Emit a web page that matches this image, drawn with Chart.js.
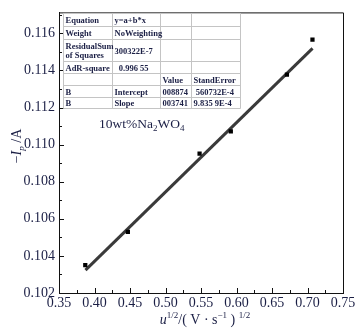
<!DOCTYPE html>
<html><head><meta charset="utf-8">
<script src="https://cdn.jsdelivr.net/npm/chart.js@4/dist/chart.umd.min.js"></script>
<style>html,body{margin:0;padding:0;background:#fff}canvas{display:block}</style>
</head><body>
<canvas id="c" width="361" height="329"></canvas>
<script>
// ---- data ----
const scanRateSqrt = [0.387, 0.447, 0.548, 0.592, 0.671, 0.707];
const peakCurrent  = [0.1035, 0.10529, 0.10952, 0.11072, 0.11378, 0.11566];
const fitX = [0.3873, 0.7071];
const fitY = [0.10323, 0.11519];
const xTickValues = [0.35, 0.40, 0.45, 0.50, 0.55, 0.60, 0.65, 0.70, 0.75];
const yTickValues = [0.102, 0.104, 0.106, 0.108, 0.110, 0.112, 0.114, 0.116];
const tableCol1 = ["Equation", "Weight", "ResidualSum|of Squares", "AdR-square", "", "B", "B"];
const tableCol2 = ["y=a+b*x", "NoWeighting", "300322E-7", "  0.996 55", "", "Intercept", "Slope"];
const tableCol3 = ["", "", "", "", "Value", "008874", "003741"];
const tableCol4 = ["", "", "", "", "StandError", " 560732E-4", "9.835 9E-4"];
const sampleLabel = ["10wt%Na", "2", "WO", "4"];

const SERIF = '"Liberation Serif", "Times New Roman", serif';
const TXT = '#1b1f45';

const decor = {
  id: 'decor',
  afterDraw(chart) {
    const ctx = chart.ctx, a = chart.chartArea;
    const xs = chart.scales.x, ys = chart.scales.y;
    ctx.save();
    // top & right frame
    ctx.strokeStyle = '#111'; ctx.lineWidth = 1;
    ctx.beginPath();
    ctx.moveTo(a.left, a.top + 0.5); ctx.lineTo(a.right + 0.5, a.top + 0.5);
    ctx.lineTo(a.right + 0.5, a.bottom);
    ctx.stroke();
    // inward ticks
    ctx.beginPath();
    for (let i = 0; i < xTickValues.length; i++) {
      const px = Math.round(xs.getPixelForValue(xTickValues[i])) + 0.5;
      ctx.moveTo(px, a.bottom); ctx.lineTo(px, a.bottom - 5);
      if (i < xTickValues.length - 1) {
        const pm = Math.round(xs.getPixelForValue((xTickValues[i] + xTickValues[i+1]) / 2)) + 0.5;
        ctx.moveTo(pm, a.bottom); ctx.lineTo(pm, a.bottom - 3);
      }
    }
    for (let i = 0; i < yTickValues.length; i++) {
      const py = Math.round(ys.getPixelForValue(yTickValues[i])) + 0.5;
      ctx.moveTo(a.left, py); ctx.lineTo(a.left + 5, py);
      const next = i < yTickValues.length - 1 ? yTickValues[i+1] : yTickValues[i] + 0.002;
      const mv = (yTickValues[i] + next) / 2;
      if (mv < ys.max) {
        const pm = Math.round(ys.getPixelForValue(mv)) + 0.5;
        ctx.moveTo(a.left, pm); ctx.lineTo(a.left + 3, pm);
      }
    }
    ctx.stroke();

    // results table
    const cx = [63.5, 112.5, 160.5, 191.5, 240.5];
    const ry = [13.5, 26.5, 39.5, 61.5, 73.5, 85.5, 97.5, 108.5];
    ctx.fillStyle = '#fff';
    ctx.fillRect(cx[0], ry[0], cx[4] - cx[0], ry[7] - ry[0]);
    ctx.strokeStyle = '#c4c4c4'; ctx.lineWidth = 1;
    ctx.beginPath();
    ry.forEach(y => { ctx.moveTo(cx[0], y); ctx.lineTo(cx[4], y); });
    cx.forEach(x => { ctx.moveTo(x, ry[0]); ctx.lineTo(x, ry[7]); });
    ctx.stroke();
    ctx.fillStyle = TXT;
    ctx.font = 'bold 8.5px ' + SERIF;
    ctx.textBaseline = 'alphabetic'; ctx.textAlign = 'left';
    const cols = [tableCol1, tableCol2, tableCol3, tableCol4];
    for (let r = 0; r < 7; r++) {
      for (let c = 0; c < 4; c++) {
        const t = cols[c][r];
        if (!t) continue;
        const parts = t.split('|');
        const x0 = cx[c] + 2;
        if (parts.length === 2) {
          ctx.fillText(parts[0], x0, ry[r] + 9);
          ctx.fillText(parts[1], x0, ry[r] + 18);
        } else {
          const mid = (ry[r] + ry[r+1]) / 2;
          ctx.fillText(t, x0, mid + 3);
        }
      }
    }

    // sample label 10wt%Na2WO4
    ctx.fillStyle = TXT;
    let x = 99, base = 128;
    ctx.font = '13.5px ' + SERIF;
    ctx.fillText(sampleLabel[0], x, base); x += ctx.measureText(sampleLabel[0]).width;
    ctx.font = '9px ' + SERIF;
    ctx.fillText(sampleLabel[1], x, base + 3); x += ctx.measureText(sampleLabel[1]).width;
    ctx.font = '13.5px ' + SERIF;
    ctx.fillText(sampleLabel[2], x, base); x += ctx.measureText(sampleLabel[2]).width;
    ctx.font = '9px ' + SERIF;
    ctx.fillText(sampleLabel[3], x, base + 3);

    // x axis title: u^{1/2}/(V·s^{-1})^{1/2}
    const xt = [
      ['u', 'italic 14px ', 0], ['1/2', '9px ', -6], ['/( V · s', '14px ', 0],
      ['−1', '9px ', -6], [' ) ', '14px ', 0], ['1/2', '9px ', -6]
    ];
    let tw = 0;
    xt.forEach(p => { ctx.font = p[1] + SERIF; tw += ctx.measureText(p[0]).width; });
    x = 205 - tw / 2; base = 324;
    xt.forEach(p => { ctx.font = p[1] + SERIF; ctx.fillText(p[0], x, base + p[2]); x += ctx.measureText(p[0]).width; });

    // y axis title: −I_p /A (rotated)
    ctx.translate(21, 146);
    ctx.rotate(-Math.PI / 2);
    const yt = [['−', '14px ', 0], ['I', 'italic 14px ', 0], ['p', 'italic 9px ', 3], [' /A', '14px ', 0]];
    tw = 0;
    yt.forEach(p => { ctx.font = p[1] + SERIF; tw += ctx.measureText(p[0]).width; });
    x = -tw / 2;
    yt.forEach(p => { ctx.font = p[1] + SERIF; ctx.fillText(p[0], x, p[2]); x += ctx.measureText(p[0]).width; });
    ctx.restore();
  }
};

new Chart(document.getElementById('c'), {
  type: 'scatter',
  data: {
    datasets: [
      {
        label: 'points',
        data: scanRateSqrt.map((v, i) => ({x: v, y: peakCurrent[i]})),
        pointStyle: 'rect', pointRadius: 3, backgroundColor: '#000', borderWidth: 0,
        showLine: false, order: 1
      },
      {
        label: 'fit',
        data: fitX.map((v, i) => ({x: v, y: fitY[i]})),
        showLine: true, pointRadius: 0, borderColor: '#3a3a3a', borderWidth: 3, order: 2
      }
    ]
  },
  options: {
    responsive: false, animation: false, devicePixelRatio: 1,
    layout: {padding: {left: 0, top: 11, right: 18, bottom: 0}},
    plugins: {legend: {display: false}, tooltip: {enabled: false}},
    scales: {
      x: {
        type: 'linear', min: 0.35, max: 0.75,
        afterBuildTicks: s => { s.ticks = xTickValues.map(v => ({value: v})); },
        afterFit: s => { s.height = 36; },
        ticks: {
          padding: 2, color: TXT, maxRotation: 0, autoSkip: false,
          font: {family: SERIF, size: 14},
          callback: v => Number(v).toFixed(2)
        },
        grid: {display: true, drawOnChartArea: false, drawTicks: false},
        border: {display: true, color: '#111', width: 1}
      },
      y: {
        type: 'linear', min: 0.102, max: 0.11713,
        afterBuildTicks: s => { s.ticks = yTickValues.map(v => ({value: v})); },
        afterFit: s => { s.width = 59; },
        ticks: {
          padding: 4, color: TXT, autoSkip: false,
          font: {family: SERIF, size: 14},
          callback: v => Number(v).toFixed(3)
        },
        grid: {display: true, drawOnChartArea: false, drawTicks: false},
        border: {display: true, color: '#111', width: 1}
      }
    }
  },
  plugins: [decor]
});
</script>
</body></html>
